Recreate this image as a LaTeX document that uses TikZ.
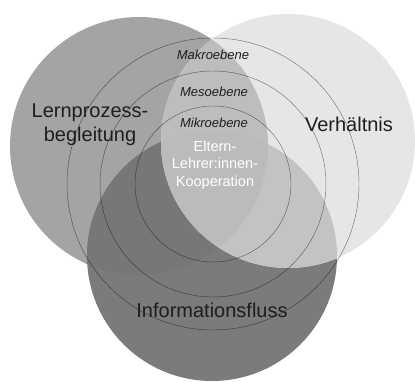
\documentclass[tikz,border=0pt]{standalone}
\usepackage{fontspec}
\setmainfont{Liberation Sans}
\usepackage{xcolor}
\usepackage{tikz}
\definecolor{ink}{HTML}{1E1E1E}
\definecolor{lerncol}{HTML}{A4A4A4}
\definecolor{infocol}{HTML}{7B7B7B}
\definecolor{verhcol}{HTML}{E6E6E6}
\definecolor{lerninfo}{HTML}{777777}
\definecolor{lernverh}{HTML}{BDBDBD}
\definecolor{infoverh}{HTML}{C3C3C3}
\definecolor{allthree}{HTML}{BBBBBB}
\tikzset{
  ring/.style={draw=black, draw opacity=0.5, line width=0.45pt},
  biglab/.style={text=ink, font=\fontsize{20}{24}\selectfont, align=center},
  levellab/.style={text=ink, font=\fontsize{13}{15}\selectfont\itshape},
  corelab/.style={text=white, font=\fontsize{14.5}{17.5}\selectfont, align=center},
}

\begin{document}
\begin{tikzpicture}[x=1pt, y=-1pt]
  \useasboundingbox (0,0) rectangle (415,382);
  \coordinate (L) at (139,146);
  \coordinate (V) at (288,141);
  \coordinate (I) at (212,256);
  \coordinate (M) at (213,184);
  \def\rL{129pt}
  \def\rV{127pt}
  \def\rI{125pt}

  % the three fields
  \fill[lerncol] (L) circle[radius=\rL];
  \fill[infocol] (I) circle[radius=\rI];
  \begin{scope}
    \clip (L) circle[radius=\rL];
    \fill[lerninfo] (I) circle[radius=\rI];
  \end{scope}
  \fill[verhcol] (V) circle[radius=\rV];
  \begin{scope}
    \clip (L) circle[radius=\rL];
    \fill[lernverh] (V) circle[radius=\rV];
  \end{scope}
  \begin{scope}
    \clip (I) circle[radius=\rI];
    \fill[infoverh] (V) circle[radius=\rV];
  \end{scope}
  \begin{scope}
    \clip (L) circle[radius=\rL];
    \clip (I) circle[radius=\rI];
    \fill[allthree] (V) circle[radius=\rV];
  \end{scope}

  % levels
  \draw[ring] (M) circle[radius=146pt];
  \draw[ring] (M) circle[radius=113pt];
  \draw[ring] (M) circle[radius=78pt];

  \node[biglab] (lern) at (90,125) {Lernprozess-\\begleitung};
  \node[biglab] (verh) at (349,124) {Verhältnis};
  \node[biglab] (info) at (212,310) {Informationsfluss};

  \node[levellab] (makro) at (213,55) {Makroebene};
  \node[levellab] (meso) at (214,92) {Mesoebene};
  \node[levellab] (mikro) at (214,123) {Mikroebene};
  \node[corelab] (koop) at (215,165) {Eltern-\\Lehrer:innen-\\Kooperation};
\end{tikzpicture}
\end{document}
